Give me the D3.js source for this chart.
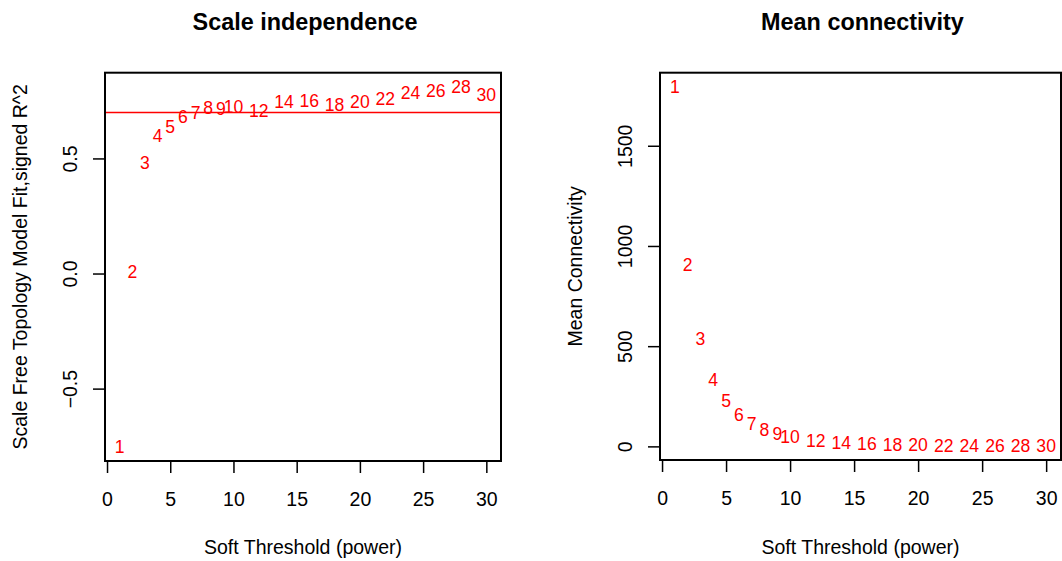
<!DOCTYPE html>
<html>
<head>
<meta charset="utf-8">
<script src="https://cdn.jsdelivr.net/npm/d3@7"></script>
<style>
  body { margin: 0; background: white; }
  text { font-family: "Liberation Sans", Arial, sans-serif; }
</style>
</head>
<body>
<svg id="chart" width="1062" height="561"></svg>
<script>
// soft-thresholding powers tested
const powers = [1, 2, 3, 4, 5, 6, 7, 8, 9, 10, 12, 14, 16, 18, 20, 22, 24, 26, 28, 30];
// scale free topology fit, signed R^2
const sftR2 = [-0.752, 0.006, 0.483, 0.599, 0.640, 0.683, 0.698, 0.722, 0.715, 0.723,
               0.709, 0.746, 0.752, 0.733, 0.746, 0.758, 0.787, 0.794, 0.810, 0.779];
// mean connectivity
const meanK = [1793, 905, 535, 333, 227, 156, 112, 84, 62, 47,
               29, 19, 13, 9, 7, 6, 5, 4.5, 4, 3.6];
const r2Cutoff = 0.70;

const xTicks = [0, 5, 10, 15, 20, 25, 30];
const r2Ticks = [-0.5, 0, 0.5];
const r2TickLabels = ["\u22120.5", "0.0", "0.5"];
const kTicks = [0, 500, 1000, 1500];
const kTickLabels = ["0", "500", "1000", "1500"];

const svg = d3.select("#chart");
const baseFont = 19.5;

// R-style limits: data range padded by 4% on each side
function padded(vals) {
    let [lo, hi] = d3.extent(vals);
    let pad = (hi - lo) * 0.04;
    return [lo - pad, hi + pad];
}

function drawPanel(p) {
    let x = d3.scaleLinear().domain(padded(powers)).range([p.left, p.right]);
    let y = d3.scaleLinear().domain(padded(p.values)).range([p.bottom, p.top]);
    let g = svg.append("g");

    // x axis
    let xAxis = d3.axisBottom(x).tickValues(xTicks).tickSize(12).tickFormat(d3.format("d"));
    let gx = g.append("g")
        .attr("transform", "translate(0," + p.bottom + ")")
        .call(xAxis);
    gx.select(".domain").remove();
    gx.selectAll("line").attr("stroke", "black").attr("stroke-width", 1.5);
    gx.selectAll("text")
        .attr("y", 45).attr("dy", 0)
        .style("font-size", baseFont + "px")
        .attr("fill", "black");

    // y axis, labels parallel to axis like R
    let yAxis = d3.axisLeft(y).tickValues(p.ticks).tickSize(12)
        .tickFormat((d, i) => p.tickLabels[i]);
    let gy = g.append("g")
        .attr("transform", "translate(" + p.left + ",0)")
        .call(yAxis);
    gy.select(".domain").remove();
    gy.selectAll("line").attr("stroke", "black").attr("stroke-width", 1.5);
    gy.selectAll("text")
        .attr("x", null).attr("dy", null)
        .attr("transform", "translate(-28,0) rotate(-90)")
        .style("text-anchor", "middle")
        .style("font-size", baseFont + "px")
        .attr("fill", "black");

    // cutoff line
    if (p.hline !== undefined) {
        g.append("line")
            .attr("x1", p.left).attr("x2", p.right)
            .attr("y1", y(p.hline)).attr("y2", y(p.hline))
            .attr("stroke", "red")
            .attr("stroke-width", 1.5);
    }

    // power labels as points
    g.selectAll(".lab")
        .data(powers)
        .enter()
        .append("text")
        .attr("class", "lab")
        .attr("x", d => x(d))
        .attr("y", (d, i) => y(p.values[i]))
        .attr("dy", "0.36em")
        .style("text-anchor", "middle")
        .style("font-size", "17.6px")
        .attr("fill", "red")
        .text(d => d);

    // box
    g.append("rect")
        .attr("x", p.left).attr("y", p.top)
        .attr("width", p.right - p.left)
        .attr("height", p.bottom - p.top)
        .attr("fill", "none")
        .attr("stroke", "black")
        .attr("stroke-width", 2);

    let cx = (p.left + p.right) / 2;
    g.append("text")
        .attr("x", cx + 2).attr("y", 30)
        .style("text-anchor", "middle")
        .style("font-size", "23.4px")
        .style("font-weight", "bold")
        .text(p.title);

    g.append("text")
        .attr("x", cx).attr("y", 554)
        .style("text-anchor", "middle")
        .style("font-size", baseFont + "px")
        .text("Soft Threshold (power)");

    let cy = (p.top + p.bottom) / 2;
    g.append("text")
        .attr("transform", "translate(" + p.ytitleX + "," + cy + ") rotate(-90)")
        .style("text-anchor", "middle")
        .style("font-size", baseFont + "px")
        .text(p.ytitle);
}

drawPanel({
    left: 105, right: 501, top: 72.7, bottom: 461,
    values: sftR2, ticks: r2Ticks, tickLabels: r2TickLabels,
    hline: r2Cutoff,
    title: "Scale independence",
    ytitle: "Scale Free Topology Model Fit,signed R^2",
    ytitleX: 26.5
});

drawPanel({
    left: 660, right: 1061, top: 72.7, bottom: 460,
    values: meanK, ticks: kTicks, tickLabels: kTickLabels,
    title: "Mean connectivity",
    ytitle: "Mean Connectivity",
    ytitleX: 582.3
});
</script>
</body>
</html>
